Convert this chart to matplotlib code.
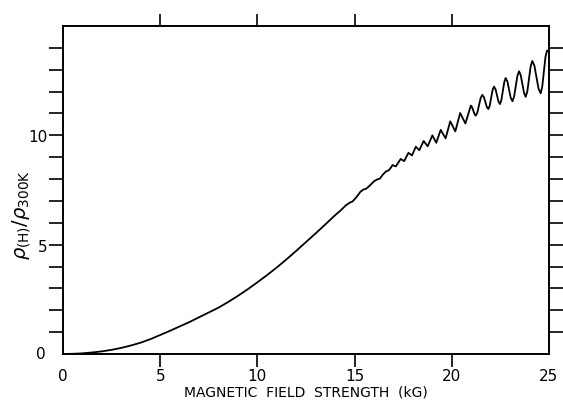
import matplotlib
matplotlib.use("Agg")
import matplotlib.pyplot as plt

plt.rcParams['font.family'] = ['DejaVu Sans']
plt.rcParams['mathtext.fontset'] = 'dejavusans'

# Magnetic field (kG) and resistance ratio
field = [0, 0.5, 1, 1.5, 2, 2.5, 3, 3.5, 4, 4.5, 5, 5.5, 6, 6.5, 7, 7.5, 8, 8.5,
         9, 9.5, 10, 10.5, 11, 11.5, 12, 12.5, 13, 13.5, 14,
         14.3, 14.55, 14.75, 14.9, 15.1, 15.3, 15.45, 15.6, 15.8, 16.0, 16.15,
         16.3, 16.45, 16.6, 16.75, 16.85,
         16.95, 17.12, 17.37, 17.55, 17.77, 17.95, 18.15, 18.33, 18.55, 18.76,
         19.0, 19.2, 19.43, 19.68, 19.92, 20.18, 20.43, 20.7,
         20.98, 21.04, 21.105, 21.17, 21.23, 21.315, 21.40, 21.485,
         21.57, 21.65, 21.725, 21.80, 21.88, 21.95, 22.025, 22.10,
         22.17, 22.25, 22.325, 22.40, 22.48, 22.55, 22.625, 22.70,
         22.77, 22.86, 22.945, 23.03, 23.12, 23.205, 23.29, 23.375,
         23.46, 23.545, 23.63, 23.715, 23.80, 23.885, 23.97, 24.055,
         24.14, 24.25, 24.355, 24.46, 24.57, 24.65, 24.735, 24.82,
         24.90, 25.0]
ratio = [0, 0.01, 0.03, 0.07, 0.12, 0.19, 0.28, 0.39, 0.52, 0.68, 0.87, 1.06, 1.26, 1.46, 1.68, 1.90, 2.12, 2.38,
         2.66, 2.96, 3.28, 3.61, 3.96, 4.33, 4.72, 5.12, 5.52, 5.93, 6.35,
         6.58, 6.80, 6.92, 6.98, 7.18, 7.42, 7.52, 7.56, 7.72, 7.90, 7.98,
         8.02, 8.20, 8.34, 8.40, 8.50,
         8.64, 8.58, 8.92, 8.82, 9.20, 9.08, 9.48, 9.32, 9.74, 9.50,
         10.0, 9.66, 10.25, 9.86, 10.64, 10.18, 11.02, 10.54,
         11.36, 11.29, 11.13, 10.97, 10.90, 11.04, 11.38, 11.71,
         11.85, 11.75, 11.53, 11.30, 11.20, 11.35, 11.72, 12.08,
         12.23, 12.11, 11.83, 11.55, 11.43, 11.61, 12.03, 12.44,
         12.62, 12.46, 12.09, 11.72, 11.56, 11.77, 12.25, 12.72,
         12.93, 12.75, 12.35, 11.94, 11.76, 12.01, 12.58, 13.15,
         13.40, 13.18, 12.66, 12.14, 11.92, 12.21, 12.90, 13.59,
         13.88, 13.82]

x_tick_values = [0, 5, 10, 15, 20, 25]
x_tick_labels = ['0', '5', '10', '15', '20', '25']
y_label_values = [0, 5, 10]
y_label_texts = ['0', '5', '10']
y_minor_values = [1, 2, 3, 4, 6, 7, 8, 9, 11, 12, 13, 14]

fig = plt.figure(figsize=(5.63, 4.02), dpi=100)
ax = fig.add_axes([63/563, 1 - 355/402, (549 - 63)/563, (355 - 27)/402])

ax.plot(field, ratio, color='black', lw=1.3, solid_joinstyle='round')

ax.set_xlim(0, 25)
ax.set_ylim(0, 15)

for s in ax.spines.values():
    s.set_linewidth(1.4)

ax.set_xticks(x_tick_values)
ax.set_xticklabels(x_tick_labels, fontsize=11)
ax.set_yticks(y_label_values)
ax.set_yticklabels(y_label_texts, fontsize=11)
ax.set_yticks(y_minor_values, minor=True)

ax.tick_params(axis='x', which='major', direction='out', top=True, bottom=True,
               length=9, width=1.2, pad=1)
ax.tick_params(axis='y', which='both', direction='out', left=True, right=True,
               length=10, width=1.2, pad=1)

# hide tick marks that sit on the frame corners
for t in (ax.xaxis.get_major_ticks()[0], ax.xaxis.get_major_ticks()[-1]):
    t.tick1line.set_visible(False)
    t.tick2line.set_visible(False)
y0 = ax.yaxis.get_major_ticks()[0]
y0.tick1line.set_visible(False)
y0.tick2line.set_visible(False)
y0.label1.set_verticalalignment('center')
y0.label1.set_x(-0.005)

ax.set_xlabel('MAGNETIC  FIELD  STRENGTH  (kG)', fontsize=10, labelpad=1)
fig.text(22/563, 1 - 215/402, r'$\rho_{(\mathrm{H})}/\rho_{300\mathrm{K}}$',
         rotation=90, ha='center', va='center', fontsize=14)

fig.savefig('out.png', dpi=100)
